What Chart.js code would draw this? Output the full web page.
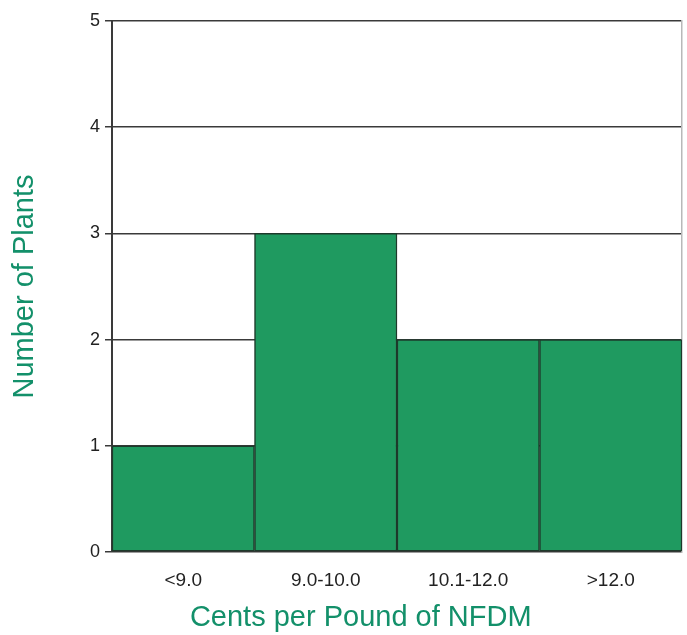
<!DOCTYPE html>
<html>
<head>
<meta charset="utf-8">
<script src="https://cdn.jsdelivr.net/npm/chart.js@4/dist/chart.umd.min.js"></script>
<style>
  html, body { margin: 0; padding: 0; background: #ffffff; }
  #wrap { width: 687px; height: 635px; }
</style>
</head>
<body>
<div id="wrap"><canvas id="c" width="687" height="635"></canvas></div>
<script>
const categories = ['<9.0', '9.0-10.0', '10.1-12.0', '>12.0'];
const plantCounts = [1, 3, 2, 2];
const yMin = 0;
const yMax = 5;
const yStep = 1;
const xTitle = 'Cents per Pound of NFDM';
const yTitle = 'Number of Plants';

const titleGreen = '#13906a';
const barGreen = '#1f9a60';
const barEdge = '#1d3a2b';
const gridDark = '#3a3a3a';

new Chart(document.getElementById('c'), {
  type: 'bar',
  data: {
    labels: categories,
    datasets: [{
      data: plantCounts,
      backgroundColor: barGreen,
      borderColor: barEdge,
      borderWidth: 1.5,
      borderSkipped: false,
      categoryPercentage: 1.0,
      barPercentage: 1.0
    }]
  },
  options: {
    responsive: false,
    animation: false,
    devicePixelRatio: 1,
    layout: { padding: { top: 21, right: 5, left: 0, bottom: 0 } },
    plugins: {
      legend: { display: false },
      tooltip: { enabled: false },
      title: { display: false }
    },
    scales: {
      x: {
        offset: true,
        grid: { display: false, drawTicks: false },
        border: { display: false },
        ticks: {
          padding: 17,
          color: '#222222',
          font: { family: 'Liberation Sans, Arial, sans-serif', size: 19 }
        },
        title: {
          display: true,
          text: xTitle + '\u2002\u2002\u2002\u2002\u2002',
          color: titleGreen,
          font: { family: 'Liberation Sans, Arial, sans-serif', size: 29 },
          padding: { top: 2, bottom: 0 }
        },
        afterFit: (scale) => { scale.height = 83; }
      },
      y: {
        min: yMin,
        max: yMax,
        ticks: {
          stepSize: yStep,
          padding: 5,
          color: '#222222',
          font: { family: 'Liberation Sans, Arial, sans-serif', size: 18 }
        },
        grid: {
          color: gridDark,
          lineWidth: 1.5,
          tickLength: 7,
          tickColor: gridDark
        },
        border: { display: true, color: gridDark, width: 2 },
        title: {
          display: true,
          text: yTitle,
          color: titleGreen,
          font: { family: 'Liberation Sans, Arial, sans-serif', size: 29 },
          padding: { top: 8, bottom: 0 }
        },
        afterFit: (scale) => { scale.width = 112; }
      },
      yRight: {
        position: 'right',
        min: yMin,
        max: yMax,
        ticks: { display: false },
        grid: { display: false, drawTicks: false },
        border: { display: true, color: '#b8b8b8', width: 1.5 },
        afterFit: (scale) => { scale.width = 0; }
      }
    }
  }
});
</script>
</body>
</html>
